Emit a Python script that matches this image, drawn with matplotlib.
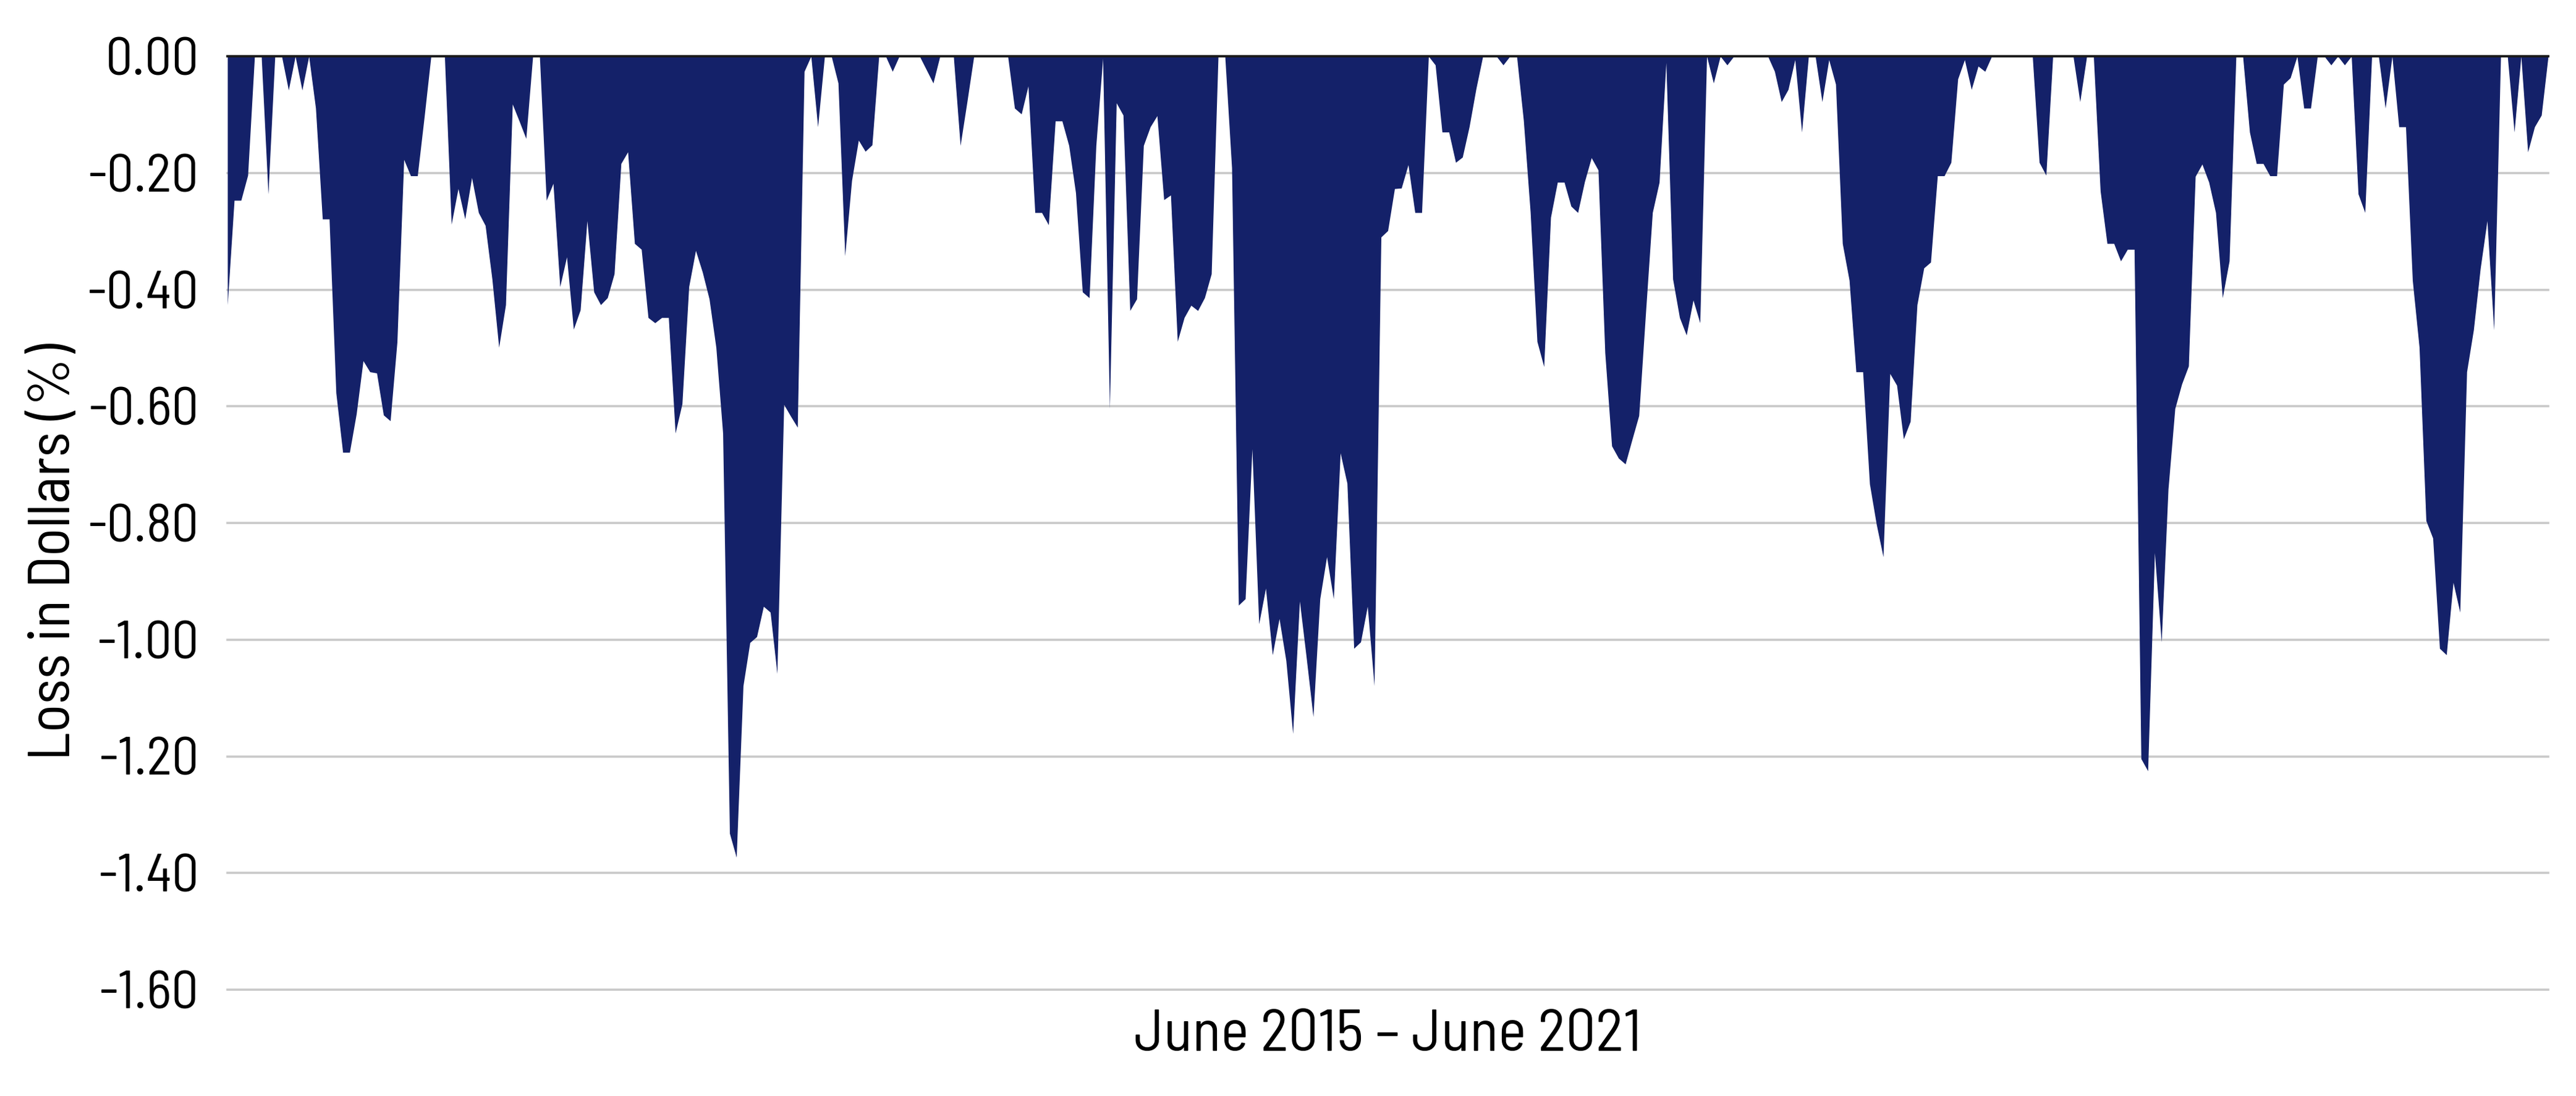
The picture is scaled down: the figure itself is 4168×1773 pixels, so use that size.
import numpy as np
import matplotlib
matplotlib.use("Agg")
import matplotlib.pyplot as plt
from matplotlib.ticker import FuncFormatter

# ## DATA ####################################################################### #

# loss in dollars (%), oldest first (June 2015 -> June 2021)
loss_seg1 = [
    -0.426, -0.247, -0.247, -0.204, 0, 0, -0.236, 0, 0, -0.058,
    0, -0.058, 0, -0.089, -0.279, -0.279, -0.577, -0.679, -0.679, -0.613,
    -0.522, -0.541, -0.543, -0.615, -0.625, -0.49, -0.177, -0.205, -0.205, -0.105,
    0, 0, 0, -0.288,
    -0.227, -0.279, -0.208, -0.268, -0.29, -0.382, -0.499, -0.426, -0.082, -0.111,
    -0.141, 0, 0, -0.247, -0.218, -0.395, -0.344, -0.468, -0.435, -0.282,
    -0.404, -0.426, -0.414, -0.373, -0.184, -0.164, -0.321, -0.331, -0.448, -0.457,
    -0.448, -0.448, -0.646, -0.596, -0.395, -0.333, -0.37,
]
loss_seg2 = [
    -0.416, -0.499, -0.646, -1.332, -1.373, -1.079, -1.005, -0.995, -0.943, -0.953,
    -1.058, -0.597, -0.617, -0.636, -0.026, 0, -0.121, 0, 0, -0.046,
    -0.342, -0.213, -0.144, -0.163, -0.152, 0, 0, -0.026, 0, 0,
    0, 0, -0.023, -0.046,
    0, 0, 0, -0.153, -0.078, 0, 0, 0, 0, 0,
    0, -0.089, -0.099, -0.051, -0.268, -0.268, -0.289, -0.111, -0.111, -0.153,
    -0.234, -0.404, -0.414, -0.153, -0.004, -0.604, -0.08, -0.101, -0.436, -0.416,
    -0.153, -0.121, -0.102, -0.246,
]
loss_seg3 = [
    -0.238, -0.489, -0.448, -0.427, -0.436, -0.414, -0.373, 0, 0, -0.191,
    -0.941, -0.93, -0.673, -0.973, -0.912, -1.026, -0.964, -1.036, -1.161, -0.934,
    -1.031, -1.132, -0.93, -0.858, -0.93, -0.68, -0.732, -1.015, -1.004, -0.943,
    -1.079, -0.31, -0.299, -0.227,
    -0.226, -0.186, -0.268, -0.268, 0, -0.015, -0.13, -0.13, -0.182, -0.173,
    -0.121, -0.056, 0, 0, 0, -0.015, 0, 0, -0.11, -0.267,
    -0.489, -0.532, -0.276, -0.216, -0.216, -0.257, -0.268, -0.215, -0.174, -0.195,
    -0.508, -0.668, -0.689, -0.699, -0.657,
]
loss_seg4 = [
    -0.616, -0.44, -0.268, -0.216, -0.011, -0.382, -0.448, -0.478, -0.418, -0.457,
    0, -0.046, 0, -0.015, 0, 0, 0, 0, 0, 0,
    -0.026, -0.078, -0.057, -0.006, -0.13, 0, 0, -0.078, -0.006, -0.048,
    -0.321, -0.384, -0.541, -0.541,
    -0.733, -0.802, -0.858, -0.544, -0.564, -0.656, -0.626, -0.426, -0.363, -0.353,
    -0.205, -0.205, -0.182, -0.039, -0.006, -0.057, -0.017, -0.026, 0, 0,
    0, 0, 0, 0, 0, -0.182, -0.204, 0, 0, 0,
    0, -0.078, 0, 0, -0.231,
]
loss_seg5 = [
    -0.321, -0.321, -0.351, -0.331, -0.331, -1.204, -1.225, -0.851, -1.004, -0.742,
    -0.604, -0.562, -0.531, -0.206, -0.185, -0.216, -0.268, -0.414, -0.351, 0,
    0, -0.13, -0.184, -0.184, -0.205, -0.205, -0.048, -0.037, 0, -0.089,
    -0.089, 0, 0, -0.015, 0,
    -0.015, 0, -0.236, -0.268, 0, 0, -0.089, 0, -0.121, -0.121,
    -0.384, -0.499, -0.796, -0.826, -1.015, -1.026, -0.902, -0.953, -0.541, -0.469,
    -0.364, -0.282, -0.469, 0, 0, -0.13, 0, -0.164, -0.121, -0.101,
    0,
]

y_ticks = [0.0, -0.2, -0.4, -0.6, -0.8, -1.0, -1.2, -1.4, -1.6]
x_title = "June 2015 \u2013 June 2021"
y_title = "Loss in Dollars (%)"

# ## PLOT STYLE ################################################################# #

FILL_COLOR = '#142169'
GRID_COLOR = '#c8c8c8'
# condensed face first, plain sans faces as fallback
plt.rcParams['font.family'] = ['Barlow Semi Condensed', 'Liberation Sans Narrow',
                               'Liberation Sans', 'DejaVu Sans']

# ## MAIN ####################################################################### #

loss = np.array(loss_seg1 + loss_seg2 + loss_seg3 + loss_seg4 + loss_seg5)
x = np.arange(len(loss))

W, H, DPI = 4168, 1773, 300
fig = plt.figure(figsize=(W / DPI, H / DPI), dpi=DPI)
ax = fig.add_axes([368 / W, 1 - 1601 / H, (4123 - 368) / W, (1601 - 91) / H])

ax.fill_between(x, loss, 0, color=FILL_COLOR, lw=0, zorder=2)
ax.axhline(0, color='#1a1a1a', lw=0.9, zorder=4, clip_on=False)

ax.set_xlim(x[0], x[-1])
ax.set_ylim(-1.6, 0)
ax.set_yticks(y_ticks)
ax.yaxis.set_major_formatter(FuncFormatter(lambda v, p: f"{v:.2f}"))
ax.set_xticks([])

ax.yaxis.grid(True, color=GRID_COLOR, lw=0.85)
for gl in ax.get_ygridlines():
    gl.set_clip_on(False)
ax.set_axisbelow(True)
for s in ax.spines.values():
    s.set_visible(False)

ax.tick_params(axis='y', length=0, pad=11, labelsize=22)
ax.set_xlabel(x_title, fontsize=23, va='top')
ax.set_ylabel(y_title, fontsize=23)
ax.xaxis.set_label_coords(0.5, -0.021)
ax.yaxis.set_label_coords(-0.063, 0.469)

# shrink the texts if the font found is wider than the condensed original
fig.canvas.draw()
r = fig.canvas.get_renderer()
ylab = ax.yaxis.label
h = ylab.get_window_extent(r).height
if h > 675:
    ylab.set_fontsize(23 * 675 / h)
xlab = ax.xaxis.label
w = xlab.get_window_extent(r).width
if w > 840:
    xlab.set_fontsize(23 * 840 / w)
tw = max(t.get_window_extent(r).width for t in ax.get_yticklabels())
if tw > 180:
    ax.tick_params(axis='y', labelsize=22 * 180 / tw)

fig.savefig('out.png', dpi=DPI, facecolor='w')
plt.close(fig)
